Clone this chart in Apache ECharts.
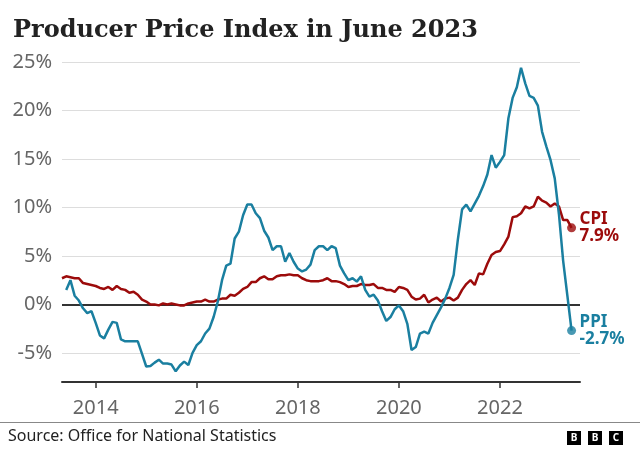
<!DOCTYPE html>
<html>
<head>
<meta charset="utf-8">
<script src="https://cdn.jsdelivr.net/npm/echarts@6/dist/echarts.min.js"></script>
<style>
html,body{margin:0;padding:0;background:#fff;}
#chart{width:640px;height:450px;}
</style>
</head>
<body>
<div id="chart"></div>
<script>
// Months from May 2013 to Aug 2023 (axis extends slightly past last data point)
var startYear = 2013, startMonth = 5, monthCount = 124;
var months = [];
for (var i = 0; i < monthCount; i++) {
  var mm = startMonth - 1 + i;
  var y = startYear + Math.floor(mm / 12);
  var m = (mm % 12) + 1;
  months.push(y + '-' + (m < 10 ? '0' + m : m));
}
var xTickYears = ['2014', '2016', '2018', '2020', '2022'];
var yTicks = [-5, 0, 5, 10, 15, 20, 25];

// CPI annual rate, May 2013 - Jun 2023
var cpi = [
  2.7, 2.9, 2.8, 2.7, 2.7, 2.2, 2.1, 2.0,
  1.9, 1.7, 1.6, 1.8, 1.5, 1.9, 1.6, 1.5, 1.2, 1.3, 1.0, 0.5,
  0.3, 0.0, 0.0, -0.1, 0.1, 0.0, 0.1, 0.0, -0.1, -0.1, 0.1, 0.2,
  0.3, 0.3, 0.5, 0.3, 0.3, 0.5, 0.6, 0.6, 1.0, 0.9, 1.2, 1.6,
  1.8, 2.3, 2.3, 2.7, 2.9, 2.6, 2.6, 2.9, 3.0, 3.0, 3.1, 3.0,
  3.0, 2.7, 2.5, 2.4, 2.4, 2.4, 2.5, 2.7, 2.4, 2.4, 2.3, 2.1,
  1.8, 1.9, 1.9, 2.1, 2.0, 2.0, 2.1, 1.7, 1.7, 1.5, 1.5, 1.3,
  1.8, 1.7, 1.5, 0.8, 0.5, 0.6, 1.0, 0.2, 0.5, 0.7, 0.3, 0.6,
  0.7, 0.4, 0.7, 1.5, 2.1, 2.5, 2.0, 3.2, 3.1, 4.2, 5.1, 5.4,
  5.5, 6.2, 7.0, 9.0, 9.1, 9.4, 10.1, 9.9, 10.1, 11.1, 10.7, 10.5,
  10.1, 10.4, 10.1, 8.7, 8.7, 7.9
];
// PPI (input) annual rate, Jun 2013 - Jun 2023
var ppi = [
  1.5, 2.5, 0.9, 0.4, -0.4, -0.9, -0.7,
  -1.9, -3.2, -3.5, -2.6, -1.8, -1.9, -3.6, -3.8, -3.8, -3.8, -3.8, -5.1,
  -6.4, -6.35, -6.0, -5.7, -6.1, -6.1, -6.2, -6.9, -6.3, -5.9, -6.25, -5.0,
  -4.2, -3.8, -3.0, -2.5, -1.3, 0.3, 2.5, 4.0, 4.2, 6.8, 7.5, 9.2,
  10.3, 10.3, 9.4, 8.9, 7.6, 6.9, 5.6, 6.0, 6.0, 4.4, 5.3, 4.4,
  3.7, 3.4, 3.6, 4.1, 5.6, 6.0, 6.0, 5.6, 6.0, 5.8, 4.0, 3.2,
  2.5, 2.7, 2.35, 2.9, 1.5, 0.8, 1.0, 0.4, -0.7, -1.7, -1.3, -0.5,
  -0.1, -0.7, -2.0, -4.7, -4.4, -3.0, -2.8, -3.0, -1.9, -1.1, -0.3, 0.6,
  1.7, 3.05, 6.7, 9.8, 10.3, 9.6, 10.4, 11.2, 12.2, 13.4, 15.4, 14.1,
  14.7, 15.4, 19.2, 21.3, 22.4, 24.4, 22.8, 21.5, 21.3, 20.5, 17.8, 16.3,
  14.9, 13.0, 9.3, 4.5, 0.9, -2.7
];
var ppiStart = '2013-06';

var CPI_COLOR = '#9c0b0b';
var PPI_COLOR = '#1a7fa0';

var ppiOffset = months.indexOf(ppiStart);
var cpiData = cpi.map(function (v, i) { return [months[i], v]; });
var ppiData = ppi.map(function (v, i) { return [months[i + ppiOffset], v]; });
var cpiLast = cpiData[cpiData.length - 1];
var ppiLast = ppiData[ppiData.length - 1];

function isTickMonth(idx, val) {
  return val.slice(5) === '01' && xTickYears.indexOf(val.slice(0, 4)) >= 0;
}
function endFmt(name) {
  return function (p) {
    var v = Array.isArray(p.value) ? p.value[1] : p.value;
    return name + '\n' + v.toFixed(1) + '%';
  };
}

var chart = echarts.init(document.getElementById('chart'), null, {renderer: 'canvas'});
chart.setOption({
  animation: false,
  backgroundColor: '#ffffff',
  title: {
    text: 'Producer Price Index in June 2023',
    left: 8, top: 14,
    textStyle: {fontFamily: 'DejaVu Serif', fontWeight: 'bold', fontSize: 24, color: '#222222'}
  },
  grid: {left: 62, right: 60, top: 62, bottom: 68, containLabel: false},
  xAxis: {
    type: 'category',
    data: months,
    boundaryGap: false,
    axisLine: {show: true, onZero: false, lineStyle: {color: '#333333', width: 2}},
    axisTick: {show: true, interval: isTickMonth, length: 6, lineStyle: {color: '#333333', width: 1.5}},
    axisLabel: {
      interval: isTickMonth, margin: 16,
      formatter: function (v) { return v.slice(0, 4); },
      fontFamily: 'Noto Sans', fontSize: 20, color: '#666666'
    },
    splitLine: {show: false}
  },
  yAxis: {
    type: 'value',
    min: -8, max: 25,
    axisLine: {show: false},
    axisTick: {show: false, customValues: yTicks},
    axisLabel: {
      customValues: yTicks, margin: 10,
      formatter: function (v) { return v + '%'; },
      fontFamily: 'Noto Sans', fontSize: 20, color: '#666666'
    },
    splitLine: {show: true, lineStyle: {color: '#dddddd', width: 1}}
  },
  series: [
    {
      name: 'CPI', type: 'line', data: cpiData, symbol: 'none',
      lineStyle: {color: CPI_COLOR, width: 2.5}, z: 3,
      endLabel: {show: true, formatter: endFmt('CPI'), color: CPI_COLOR, fontFamily: 'Noto Sans',
        fontWeight: 'bold', fontSize: 17, lineHeight: 17, distance: 8},
      markLine: {
        silent: true, symbol: 'none', label: {show: false},
        lineStyle: {color: '#333333', width: 2, type: 'solid'},
        data: [{yAxis: 0}], z: 2
      }
    },
    {
      name: 'PPI', type: 'line', data: ppiData, symbol: 'none',
      lineStyle: {color: PPI_COLOR, width: 2.5}, z: 4,
      endLabel: {show: true, formatter: endFmt('PPI'), color: PPI_COLOR, fontFamily: 'Noto Sans',
        fontWeight: 'bold', fontSize: 17, lineHeight: 17, distance: 8}
    },
    {
      type: 'scatter', data: [cpiLast], symbolSize: 9, z: 5,
      itemStyle: {color: CPI_COLOR}, silent: true
    },
    {
      type: 'scatter', data: [ppiLast], symbolSize: 9, z: 5,
      itemStyle: {color: PPI_COLOR}, silent: true
    }
  ],
  graphic: [
    {type: 'line', shape: {x1: 0, y1: 422.5, x2: 640, y2: 422.5}, style: {stroke: '#888888', lineWidth: 1}},
    {type: 'text', left: 8, top: 428, style: {text: 'Source: Office for National Statistics', fontFamily: 'Noto Sans', fontSize: 16, fill: '#222222'}},
    {type: 'group', left: 567, top: 431, children: [
      {type: 'rect', shape: {x: 0, y: 0, width: 14, height: 14}, style: {fill: '#000'}},
      {type: 'text', x: 7, y: 7, style: {text: 'B', fontFamily: 'Noto Sans', fontWeight: 'bold', fontSize: 10, fill: '#fff', align: 'center', verticalAlign: 'middle'}},
      {type: 'rect', shape: {x: 21, y: 0, width: 14, height: 14}, style: {fill: '#000'}},
      {type: 'text', x: 28, y: 7, style: {text: 'B', fontFamily: 'Noto Sans', fontWeight: 'bold', fontSize: 10, fill: '#fff', align: 'center', verticalAlign: 'middle'}},
      {type: 'rect', shape: {x: 42, y: 0, width: 14, height: 14}, style: {fill: '#000'}},
      {type: 'text', x: 49, y: 7, style: {text: 'C', fontFamily: 'Noto Sans', fontWeight: 'bold', fontSize: 10, fill: '#fff', align: 'center', verticalAlign: 'middle'}}
    ]}
  ]
});
</script>
</body>
</html>
